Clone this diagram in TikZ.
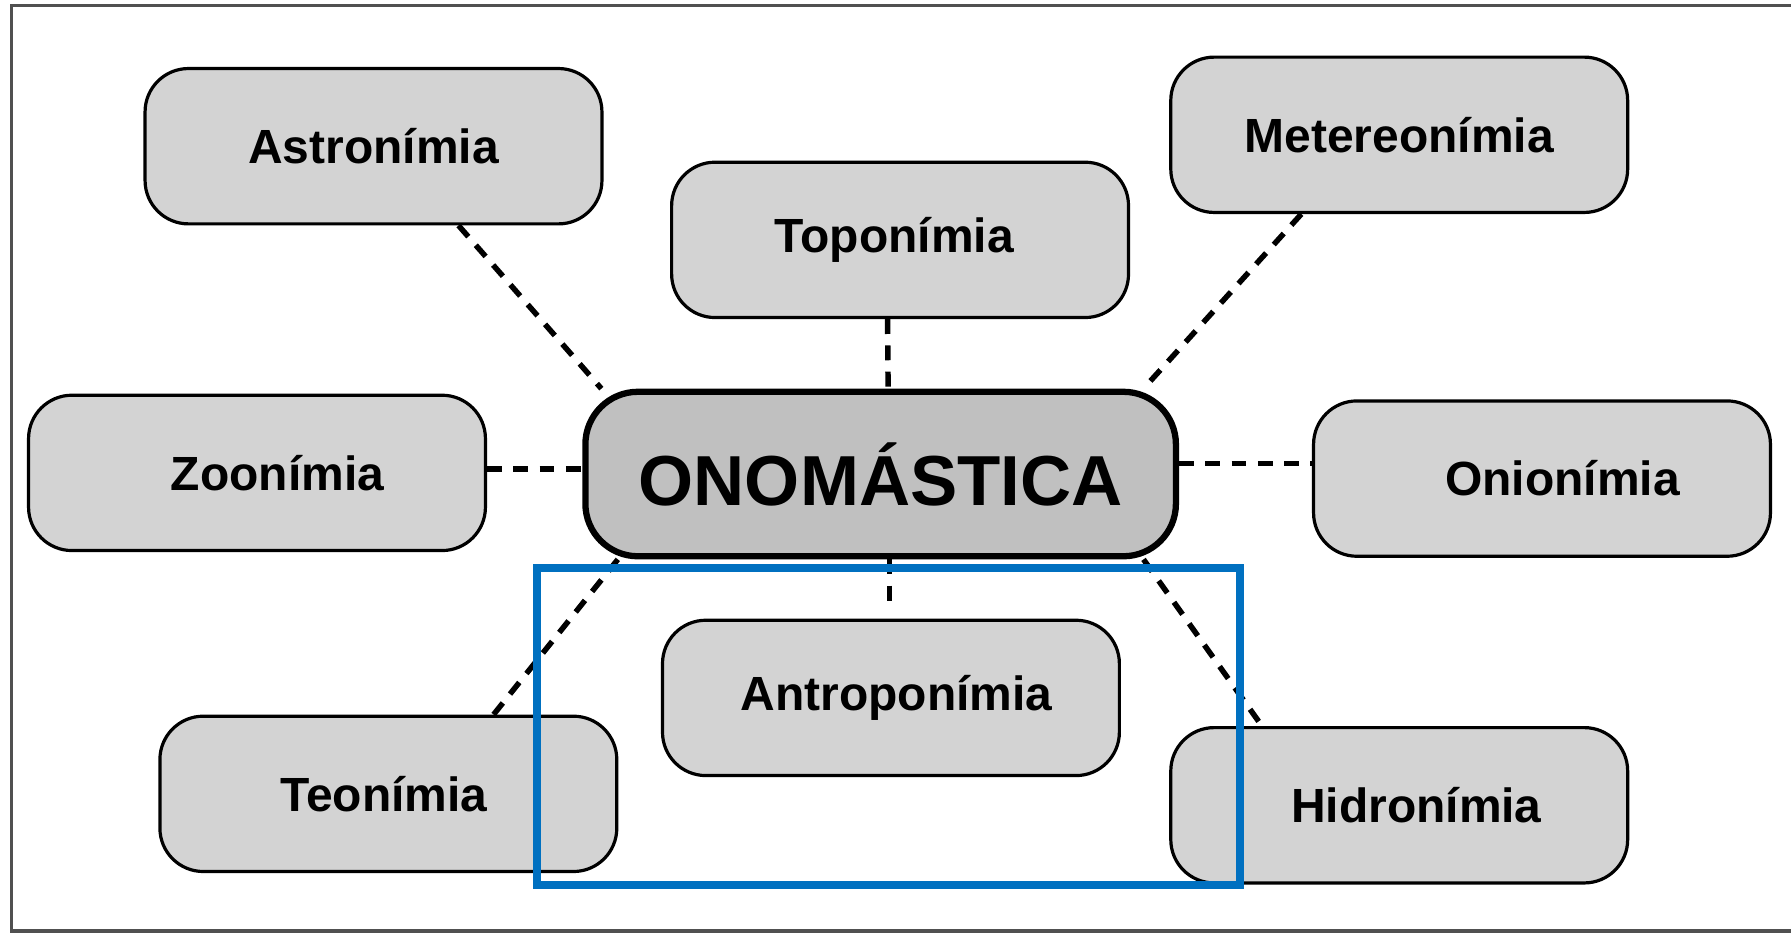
\documentclass[tikz,border=0pt]{standalone}
\usepackage{fontspec}
\setmainfont{Liberation Sans}
\usepackage{tikz}
\definecolor{framegray}{HTML}{505050}
\definecolor{boxfill}{HTML}{D3D3D3}
\definecolor{hubfill}{HTML}{C0C0C0}
\definecolor{markblue}{HTML}{0070C0}
\tikzset{
  namebox/.style={draw=black, line width=2.8pt, fill=boxfill, rounded corners=38pt,
    minimum width=400pt, minimum height=136pt, inner sep=0pt,
    font=\fontsize{42}{50}\selectfont\bfseries},
  hub/.style={draw=black, line width=5.5pt, fill=hubfill, rounded corners=46pt,
    minimum width=517pt, minimum height=144pt, inner sep=0pt,
    font=\fontsize{62}{72}\selectfont\bfseries},
  link/.style={draw=black, line width=4.8pt, dash pattern=on 13pt off 10pt},
  framebox/.style={draw=framegray, line width=3pt},
  highlight/.style={draw=markblue, line width=7pt}
}

\begin{document}
\begin{tikzpicture}[x=1pt, y=-1pt]
  \useasboundingbox (0,0) rectangle (1568,817);
  % outer frame, open on the right
  \draw[framebox] (1572,5) -- (10,5) -- (10,815) -- (1572,815);

  % centre
  \node[hub] (onom) at (771,415) {ONOMÁSTICA};

  % branches
  \node[namebox] (astro) at (327,128) {Astronímia};
  \node[namebox] (topo)  at (788,210) {Toponímia\hspace*{10pt}};
  \node[namebox] (meteo) at (1225,118) {Metereonímia};
  \node[namebox] (zoo)   at (225,414) {\hspace*{36pt}Zoonímia};
  \node[namebox] (onio)  at (1350,419) {\hspace*{36pt}Onionímia};
  \node[namebox] (antro) at (780,611) {\hspace*{10pt}Antroponímia};
  \node[namebox] (teo)   at (340,695) {Teonímia\hspace*{8pt}};
  \node[namebox] (hidro) at (1225,705) {\hspace*{30pt}Hidronímia};

  % dashed links
  \draw[link] (astro.-43.5) -- (onom.163.2);
  \draw[link] (topo.-99.2) -- (onom.85);
  \draw[link] (meteo.-141) -- (onom.18);
  \draw[link] (zoo.1) -- (zoo.1 -| onom.west);
  \draw[link] (onom.2) -- (onom.2 -| onio.west);
  \path (onom.-84.4) ++(0,38) coordinate (antrotip);
  \draw[link] (onom.-84.4) -- (antrotip);
  \draw[link] (onom.-162.9) -- (teo.37.7);
  \draw[link] (onom.-18.6) -- (hidro.150);

  % highlight
  \draw[highlight] (470,497) rectangle (1086,775);
\end{tikzpicture}
\end{document}
